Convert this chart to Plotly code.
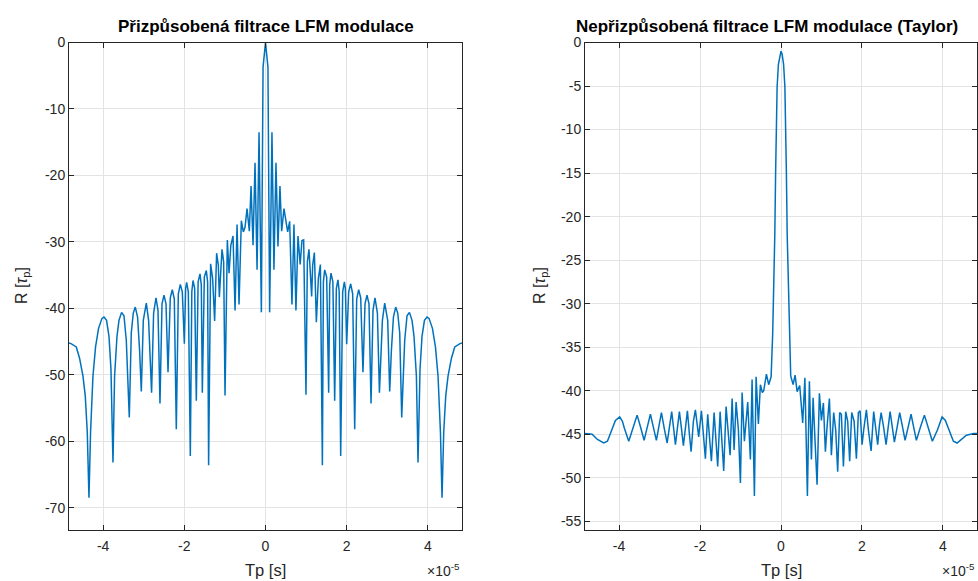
import plotly.graph_objects as go

# ---------------- data (x in units of 1e-5 s, R in dB) ----------------
# Left chart: matched filtering of LFM
matched_x = [
    -4.840, -4.790, -4.661, -4.580, -4.496, -4.439, -4.390, -4.348, -4.309, -4.250,
    -4.186, -4.112, -4.028, -3.979, -3.915, -3.855, -3.806, -3.757, -3.717, -3.658,
    -3.609, -3.545, -3.486, -3.429, -3.355, -3.306, -3.257, -3.207, -3.151, -3.101,
    -3.059, -3.010, -2.936, -2.879, -2.806, -2.756, -2.697, -2.648, -2.599, -2.549,
    -2.500, -2.451, -2.401, -2.345, -2.295, -2.246, -2.197, -2.147, -2.098, -2.049,
    -1.999, -1.967, -1.943, -1.901, -1.852, -1.815, -1.785, -1.745, -1.704, -1.660,
    -1.613, -1.581, -1.556, -1.507, -1.458, -1.426, -1.401, -1.352, -1.302, -1.253,
    -1.204, -1.162, -1.137, -1.071, -1.031, -0.997, -0.940, -0.898, -0.854, -0.800,
    -0.750, -0.701, -0.652, -0.595, -0.546, -0.504, -0.455, -0.398, -0.356, -0.307,
    -0.258, -0.208, -0.159, -0.102, -0.060, 0.000,
    0.060, 0.102, 0.159, 0.208, 0.258, 0.307, 0.356, 0.398, 0.455, 0.504,
    0.546, 0.595, 0.652, 0.701, 0.750, 0.800, 0.854, 0.898, 0.940, 0.997,
    1.031, 1.071, 1.137, 1.162, 1.204, 1.253, 1.302, 1.352, 1.401, 1.426,
    1.458, 1.507, 1.556, 1.581, 1.613, 1.660, 1.704, 1.745, 1.785, 1.815,
    1.852, 1.901, 1.943, 1.967, 1.999, 2.049, 2.098, 2.147, 2.197, 2.246,
    2.295, 2.345, 2.401, 2.451, 2.500, 2.549, 2.599, 2.648, 2.697, 2.756,
    2.806, 2.879, 2.936, 3.010, 3.059, 3.101, 3.151, 3.207, 3.257, 3.306,
    3.355, 3.429, 3.486, 3.545, 3.609, 3.658, 3.717, 3.757, 3.806, 3.855,
    3.915, 3.979, 4.028, 4.112, 4.186, 4.250, 4.309, 4.348, 4.390, 4.439,
    4.496, 4.580, 4.661, 4.790, 4.840,
]
matched_r = [
    -45.2, -45.3, -45.8, -47.5, -50.2, -53.2, -58.6, -68.5, -58.6, -50.2,
    -45.8, -43.0, -41.5, -41.3, -41.8, -44.2, -49.2, -63.2, -50.2, -44.2,
    -41.8, -40.6, -41.1, -44.8, -56.4, -43.7, -40.7, -39.8, -41.3, -46.3,
    -52.5, -41.8, -39.2, -41.8, -52.7, -40.7, -38.4, -40.3, -54.3, -39.3,
    -38.0, -39.3, -49.6, -38.4, -37.2, -38.6, -58.2, -37.8, -36.4, -37.5,
    -45.3, -37.0, -36.1, -37.5, -62.2, -37.5, -35.8, -37.0, -53.9, -36.0,
    -34.8, -36.5, -52.7, -35.3, -34.3, -36.0, -63.6, -33.3, -35.5, -41.9,
    -31.7, -33.5, -38.3, -31.1, -33.0, -53.1, -29.7, -34.7, -30.5, -29.1,
    -40.3, -27.4, -39.4, -26.8, -28.5, -27.8, -25.0, -28.4, -21.6, -30.5,
    -18.1, -34.2, -13.5, -40.6, -3.7, 0.0,
    -3.7, -40.6, -13.5, -34.2, -18.1, -30.7, -21.6, -28.4, -25.0, -27.0,
    -28.5, -26.9, -39.4, -27.4, -40.3, -29.1, -33.4, -29.8, -29.7, -53.0,
    -33.0, -31.1, -38.2, -33.5, -31.6, -42.1, -35.5, -33.4, -63.6, -36.0,
    -34.2, -35.3, -52.7, -36.5, -34.7, -36.0, -53.9, -37.0, -35.7, -37.5,
    -62.2, -37.5, -36.0, -37.0, -45.4, -37.5, -36.3, -37.8, -58.2, -38.6,
    -37.2, -38.4, -49.6, -39.3, -38.0, -39.3, -54.3, -40.3, -38.4, -40.7,
    -52.7, -41.8, -39.2, -41.8, -52.5, -46.3, -41.3, -39.8, -40.7, -43.7,
    -56.4, -44.8, -41.1, -40.6, -41.8, -44.2, -50.2, -63.2, -49.2, -44.2,
    -41.8, -41.3, -41.5, -43.0, -45.8, -50.2, -58.6, -68.5, -58.6, -53.2,
    -50.2, -47.5, -45.8, -45.3, -45.2,
]

# Right chart: mismatched filtering of LFM (Taylor window)
taylor_x = [
    -4.840, -4.664, -4.533, -4.378, -4.286, -4.188, -4.089, -3.983, -3.916, -3.867,
    -3.760, -3.657, -3.553, -3.467, -3.380, -3.304, -3.225, -3.151, -3.077, -3.015,
    -2.953, -2.884, -2.812, -2.756, -2.699, -2.652, -2.607, -2.558, -2.509, -2.459,
    -2.410, -2.360, -2.311, -2.262, -2.220, -2.163, -2.114, -2.032, -1.965, -1.867,
    -1.810, -1.719, -1.652, -1.563, -1.504, -1.415, -1.356, -1.257, -1.207, -1.158,
    -1.109, -1.052, -1.002, -0.960, -0.904, -0.822, -0.756, -0.714, -0.657, -0.615,
    -0.558, -0.509, -0.461, -0.427, -0.360, -0.304, -0.244, -0.205, -0.178, -0.153,
    -0.133, -0.119, -0.096, -0.064, -0.027, 0.000,
    0.027, 0.064, 0.096, 0.119, 0.133, 0.153, 0.178, 0.205, 0.240, 0.299,
    0.348, 0.398, 0.462, 0.536, 0.590, 0.652, 0.701, 0.751, 0.793, 0.842,
    0.891, 0.948, 0.998, 1.047, 1.096, 1.138, 1.195, 1.244, 1.301, 1.351,
    1.400, 1.449, 1.491, 1.541, 1.598, 1.647, 1.696, 1.746, 1.805, 1.862,
    1.911, 1.953, 2.002, 2.042, 2.109, 2.158, 2.225, 2.289, 2.331, 2.388,
    2.430, 2.472, 2.528, 2.595, 2.644, 2.694, 2.746, 2.800, 2.867, 2.931,
    2.998, 3.064, 3.138, 3.212, 3.277, 3.343, 3.442, 3.541, 3.640, 3.738,
    3.862, 3.978, 4.059, 4.158, 4.257, 4.348, 4.454, 4.578, 4.758, 4.840,
]
taylor_r = [
    -44.9, -45.0, -45.6, -46.0, -45.8, -44.6, -43.4, -43.0, -43.5, -44.3,
    -45.8, -44.3, -42.8, -44.2, -45.7, -44.2, -42.7, -44.2, -45.7, -44.1,
    -42.5, -44.3, -46.0, -44.2, -42.4, -44.3, -46.2, -44.3, -42.4, -44.3,
    -46.3, -44.3, -42.3, -45.0, -47.0, -43.5, -42.2, -45.3, -42.3, -47.8,
    -42.7, -48.1, -42.5, -48.7, -42.4, -49.2, -41.8, -47.4, -40.9, -46.8,
    -41.3, -44.5, -50.6, -40.2, -45.8, -41.3, -47.9, -38.7, -52.1, -38.4,
    -43.8, -39.3, -40.2, -40.0, -38.1, -39.3, -38.4, -33.4, -28.0, -22.1,
    -15.0, -10.0, -5.1, -2.5, -1.3, -1.0,
    -1.3, -2.5, -5.1, -10.0, -15.0, -22.1, -28.0, -33.4, -38.3, -39.3,
    -38.2, -40.1, -39.4, -43.7, -38.5, -52.1, -38.9, -47.9, -40.8, -45.9,
    -50.8, -40.3, -43.4, -41.4, -47.0, -44.1, -40.9, -47.4, -42.5, -44.5,
    -49.3, -42.5, -42.7, -48.7, -42.4, -43.5, -48.1, -42.5, -43.5, -47.8,
    -42.5, -42.3, -46.2, -44.5, -42.2, -44.5, -46.9, -42.4, -44.0, -46.2,
    -44.0, -42.5, -44.0, -46.2, -44.3, -42.4, -44.1, -45.9, -44.2, -42.5,
    -44.1, -45.7, -44.2, -42.7, -44.2, -45.7, -44.2, -42.8, -44.3, -45.8,
    -44.5, -43.0, -43.4, -44.6, -45.8, -46.0, -45.6, -45.1, -44.9, -44.9,
]

x_ticks = [-4, -2, 0, 2, 4]
left_y_ticks = [0, -10, -20, -30, -40, -50, -60, -70]
right_y_ticks = [0, -5, -10, -15, -20, -25, -30, -35, -40, -45, -50, -55]

titles = ["Přizpůsobená filtrace LFM modulace",
          "Nepřizpůsobená filtrace LFM modulace (Taylor)"]
x_label = "Tp [s]"
y_label = "R [<i>τ</i><sub>p</sub>]"
x_exponent = "×10<sup>-5</sup>"

# ---------------- layout geometry ----------------
W, H = 978, 581
LINE = "#0072BD"
AX = "#262626"
GRID = "#e3e3e3"
FONT = "Liberation Sans, Arial, Helvetica, sans-serif"

left_px = (69, 462)
right_px = (585, 977)
top_px, bot_px = 35, 529


def px_x(p):
    return p / W


def px_y(p):
    return 1 - p / H


def labels(vals):
    # MATLAB-style labels with a plain hyphen as minus sign
    return [str(v) for v in vals]


fig = go.Figure()
fig.add_trace(go.Scatter(x=matched_x, y=matched_r, mode="lines",
                         line=dict(color=LINE, width=1.5), xaxis="x", yaxis="y",
                         showlegend=False, hoverinfo="skip"))
fig.add_trace(go.Scatter(x=taylor_x, y=taylor_r, mode="lines",
                         line=dict(color=LINE, width=1.5), xaxis="x2", yaxis="y2",
                         showlegend=False, hoverinfo="skip"))

common_axis = dict(
    showline=True, linecolor=AX, linewidth=1, mirror="ticks",
    ticks="inside", ticklen=5, tickcolor=AX, tickwidth=1,
    showgrid=True, gridcolor=GRID, gridwidth=1, zeroline=False,
    tickfont=dict(family=FONT, size=14, color=AX),
)

ydom = [px_y(bot_px), px_y(top_px)]
fig.update_layout(
    width=W, height=H,
    margin=dict(l=0, r=0, t=0, b=0),
    paper_bgcolor="white", plot_bgcolor="white",
    xaxis=dict(domain=[px_x(left_px[0]), px_x(left_px[1])], range=[-4.84, 4.84],
               tickvals=x_ticks, ticktext=labels(x_ticks), anchor="y",
               ticklabelstandoff=3, **common_axis),
    yaxis=dict(domain=ydom, range=[-73.3, 0], tickvals=left_y_ticks,
               ticktext=labels(left_y_ticks), anchor="x", **common_axis),
    xaxis2=dict(domain=[px_x(right_px[0]), px_x(right_px[1])], range=[-4.84, 4.84],
                tickvals=x_ticks, ticktext=labels(x_ticks), anchor="y2",
                ticklabelstandoff=3, **common_axis),
    yaxis2=dict(domain=ydom, range=[-55.96, 0], tickvals=right_y_ticks,
                ticktext=labels(right_y_ticks), anchor="x2", **common_axis),
)

ann = []
title_x = [265.5, 767]
for (lo, hi), title, tx in zip([left_px, right_px], titles, title_x):
    cx = (lo + hi) / 2
    ann.append(dict(text=f"<b>{title}</b>", x=px_x(tx), y=px_y(19),
                    xref="paper", yref="paper", showarrow=False,
                    xanchor="center", yanchor="middle",
                    font=dict(family=FONT, size=17, color="#000000")))
    ann.append(dict(text=x_label, x=px_x(cx), y=px_y(570),
                    xref="paper", yref="paper", showarrow=False,
                    xanchor="center", yanchor="middle",
                    font=dict(family=FONT, size=16.5, color=AX)))
    ann.append(dict(text=x_exponent, x=px_x(hi), y=px_y(570),
                    xref="paper", yref="paper", showarrow=False,
                    xanchor="right", yanchor="middle",
                    font=dict(family=FONT, size=14, color=AX)))
for xp in [22, 540]:
    ann.append(dict(text=y_label, x=px_x(xp), y=px_y(282),
                    xref="paper", yref="paper", showarrow=False,
                    xanchor="center", yanchor="middle", textangle=-90,
                    font=dict(family=FONT, size=16, color=AX)))
fig.update_layout(annotations=ann)

fig.write_html(
    "out.html",
    config={"displayModeBar": False, "staticPlot": True},
    post_script="document.body.style.margin='0';document.body.style.padding='0';"
                "document.body.style.overflow='hidden';"
                "document.documentElement.style.overflow='hidden';",
)
